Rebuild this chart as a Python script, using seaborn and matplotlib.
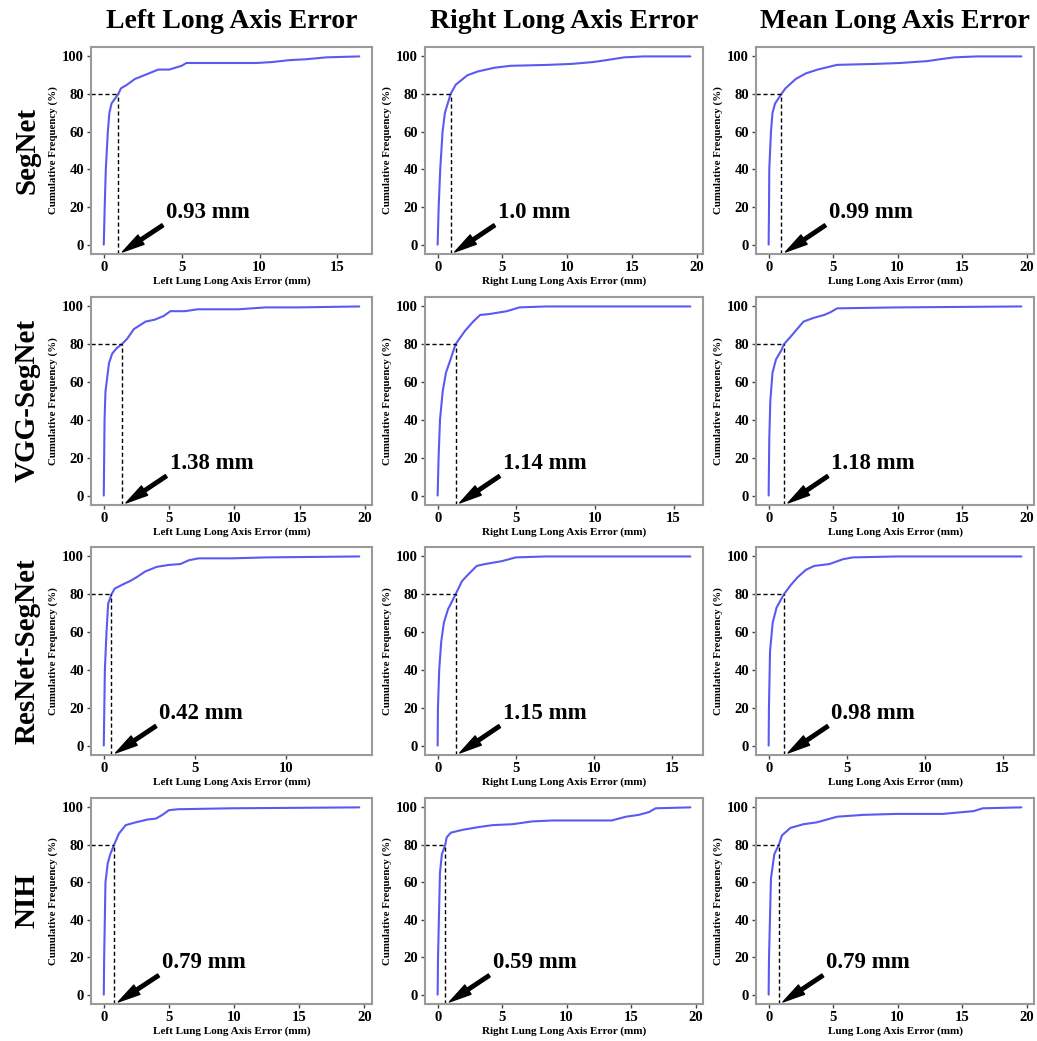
import matplotlib
matplotlib.use("Agg")
import matplotlib.pyplot as plt
import seaborn as sns
import pandas as pd

sns.set_style("white")
plt.rcParams['font.family'] = ['Liberation Serif', 'DejaVu Serif']
plt.rcParams['font.weight'] = 'bold'
plt.rcParams['text.color'] = 'black'
plt.rcParams['axes.labelcolor'] = 'black'
plt.rcParams['xtick.color'] = 'black'
plt.rcParams['ytick.color'] = 'black'

col_titles = ["Left Long Axis Error", "Right Long Axis Error", "Mean Long Axis Error"]
row_labels = ["SegNet", "VGG-SegNet", "ResNet-SegNet", "NIH"]
x_labels = ["Left Lung Long Axis Error (mm)", "Right Lung Long Axis Error (mm)", "Lung Long Axis Error (mm)"]
y_label = "Cumulative Frequency (%)"

# 80th-percentile errors (mm), rows x cols
p80 = [[0.93, 1.0, 0.99],
       [1.38, 1.14, 1.18],
       [0.42, 1.15, 0.98],
       [0.79, 0.59, 0.79]]
p80_text = [["0.93 mm", "1.0 mm", "0.99 mm"],
            ["1.38 mm", "1.14 mm", "1.18 mm"],
            ["0.42 mm", "1.15 mm", "0.98 mm"],
            ["0.79 mm", "0.59 mm", "0.79 mm"]]

# cumulative curves: error (mm) and cumulative frequency (%)
segnet_left_x = [0, 0.06, 0.13, 0.26, 0.36, 0.5, 0.93, 1.1, 1.5, 2.0, 2.9, 3.5, 4.2, 5.0, 5.3, 9.8, 10.8, 11.9, 13.0, 14.3, 16.4]
segnet_left_y = [0, 20, 40, 60, 70, 75, 80, 83, 85, 88, 91, 93, 93, 95, 96.5, 96.5, 97, 98, 98.5, 99.5, 100]
segnet_right_x = [0, 0.08, 0.2, 0.38, 0.56, 1.0, 1.4, 2.3, 3.1, 4.4, 5.6, 8.5, 10.3, 12.0, 13.0, 14.4, 15.9, 19.5]
segnet_right_y = [0, 20, 40, 60, 70, 80, 85, 90, 92, 94, 95, 95.5, 96, 97, 98, 99.5, 100, 100]
segnet_mean_x = [0, 0.03, 0.05, 0.18, 0.3, 0.5, 0.99, 1.3, 2.1, 2.9, 3.8, 5.3, 8.2, 10.2, 12.3, 13.3, 14.4, 16.2, 19.6]
segnet_mean_y = [0, 20, 40, 60, 70, 75, 80, 83, 88, 91, 93, 95.5, 96, 96.5, 97.5, 98.5, 99.5, 100, 100]

vgg_left_x = [0, 0.03, 0.06, 0.13, 0.4, 0.64, 1.0, 1.38, 1.8, 2.3, 3.2, 3.9, 4.6, 5.1, 6.2, 7.2, 10.3, 12.4, 14.9, 19.56]
vgg_left_y = [0, 20, 40, 55, 70, 75, 78, 80, 83, 88, 92, 93, 95, 97.5, 97.5, 98.5, 98.5, 99.5, 99.5, 100]
vgg_right_x = [0, 0.06, 0.15, 0.32, 0.53, 0.82, 1.14, 1.73, 2.26, 2.7, 3.3, 4.4, 5.2, 6.9, 16.07]
vgg_right_y = [0, 20, 40, 55, 65, 72, 80, 87, 92, 95.5, 96, 97.5, 99.5, 100, 100]
vgg_mean_x = [0, 0.05, 0.13, 0.3, 0.57, 1.0, 1.18, 1.7, 2.2, 2.7, 3.5, 4.3, 4.8, 5.3, 10.0, 19.56]
vgg_mean_y = [0, 30, 50, 65, 72, 77, 80, 84, 88, 92, 94, 95.5, 97, 99, 99.5, 100]

resnet_left_x = [0, 0.03, 0.06, 0.15, 0.24, 0.42, 0.6, 1.0, 1.44, 1.8, 2.26, 2.9, 3.55, 4.2, 4.66, 5.2, 7.0, 8.9, 14.0]
resnet_left_y = [0, 20, 40, 60, 75, 80, 83, 85, 87, 89, 92, 94.5, 95.5, 96, 98, 99, 99, 99.5, 100]
resnet_right_x = [0, 0.02, 0.1, 0.23, 0.4, 0.66, 1.15, 1.56, 1.9, 2.5, 3.05, 4.1, 5.0, 6.9, 16.16]
resnet_right_y = [0, 20, 40, 55, 65, 72, 80, 87, 90, 95, 96, 97.5, 99.5, 100, 100]
resnet_mean_x = [0, 0.02, 0.09, 0.26, 0.51, 0.98, 1.43, 1.86, 2.4, 2.93, 3.9, 4.75, 5.4, 8.2, 16.2]
resnet_mean_y = [0, 20, 50, 65, 73, 80, 85, 89, 93, 95, 96, 98.5, 99.5, 100, 100]

nih_left_x = [0, 0.03, 0.13, 0.3, 0.5, 0.79, 1.16, 1.68, 2.45, 3.35, 4.0, 4.5, 5.0, 5.7, 9.8, 19.6]
nih_left_y = [0, 20, 60, 70, 75, 80, 86, 90.5, 92, 93.5, 94, 96, 98.5, 99, 99.5, 100]
nih_right_x = [0, 0.03, 0.18, 0.33, 0.59, 0.7, 1.03, 1.93, 3.2, 4.25, 5.8, 7.35, 8.9, 13.5, 14.6, 15.6, 16.4, 16.9, 19.6]
nih_right_y = [0, 20, 65, 75, 80, 84, 86.5, 88, 89.5, 90.5, 91, 92.5, 93, 93, 95, 96, 97.5, 99.5, 100]
nih_mean_x = [0, 0.03, 0.18, 0.44, 0.79, 1.03, 1.68, 2.7, 3.74, 4.26, 5.3, 7.35, 9.9, 13.5, 15.1, 15.9, 16.6, 19.6]
nih_mean_y = [0, 20, 62, 75, 80, 85, 89, 91, 92, 93, 95, 96, 96.5, 96.5, 97.5, 98, 99.5, 100]

curves = [[(segnet_left_x, segnet_left_y), (segnet_right_x, segnet_right_y), (segnet_mean_x, segnet_mean_y)],
          [(vgg_left_x, vgg_left_y), (vgg_right_x, vgg_right_y), (vgg_mean_x, vgg_mean_y)],
          [(resnet_left_x, resnet_left_y), (resnet_right_x, resnet_right_y), (resnet_mean_x, resnet_mean_y)],
          [(nih_left_x, nih_left_y), (nih_right_x, nih_right_y), (nih_mean_x, nih_mean_y)]]

W, H = 1037, 1041
fig = plt.figure(figsize=(W / 100, H / 100), dpi=100)
col_left = [91, 425, 756]
col_w = [281, 278, 278]
row_top = [47, 297, 547, 798]
row_h = [207, 208, 208, 206]

line_color = '#5a5af0'
spine_color = '#9a9a9a'

for r in range(4):
    for c in range(3):
        ax = fig.add_axes([col_left[c] / W, 1 - (row_top[r] + row_h[r]) / H, col_w[c] / W, row_h[r] / H])
        xs, ys = curves[r][c]
        df = pd.DataFrame({"err": xs, "freq": ys})
        sns.lineplot(data=df, x="err", y="freq", ax=ax, color=line_color, linewidth=1.5, sort=False)
        ax.set_ylim(-5, 105)
        ax.set_yticks([0, 20, 40, 60, 80, 100])
        x0, x1 = ax.get_xlim()
        y0, y1 = ax.get_ylim()
        v = p80[r][c]
        ax.plot([x0, v], [80, 80], ls=(0, (3, 2)), color='black', lw=1)
        ax.plot([v, v], [y0, 80], ls=(0, (3, 2)), color='black', lw=1)
        ax.set_xlim(x0, x1)
        ax.set_ylim(y0, y1)
        vf = (v - x0) / (x1 - x0)
        ax.annotate(p80_text[r][c], xy=(vf + 0.015, 0.01), xycoords='axes fraction',
                    xytext=(vf + 0.17, 0.2), textcoords='axes fraction',
                    ha='left', va='center', fontsize=16.5, fontweight='bold', color='black',
                    arrowprops=dict(facecolor='black', edgecolor='black', width=2.5,
                                    headwidth=8, headlength=16, shrink=0.0))
        ax.set_xlabel(x_labels[c], fontsize=8, fontweight='bold', labelpad=2)
        ax.set_ylabel(y_label, fontsize=7.8, fontweight='bold', labelpad=3)
        ax.tick_params(axis='both', labelsize=10.5, length=3, width=1, color='#444444', pad=2,
                       bottom=True, left=True)
        for lab in ax.get_xticklabels() + ax.get_yticklabels():
            lab.set_fontweight('bold')
        for s in ax.spines.values():
            s.set_color(spine_color)
            s.set_linewidth(1.5)
            s.set_visible(True)

for c in range(3):
    fig.text((col_left[c] + col_w[c] / 2) / W, 1 - 21 / H, col_titles[c], ha='center', va='center',
             fontsize=20, fontweight='bold')
for r in range(4):
    fig.text(27 / W, 1 - (row_top[r] + row_h[r] / 2) / H, row_labels[r], ha='center', va='center',
             rotation=90, fontsize=21, fontweight='bold')

fig.savefig("out.png", dpi=100, facecolor='white')
